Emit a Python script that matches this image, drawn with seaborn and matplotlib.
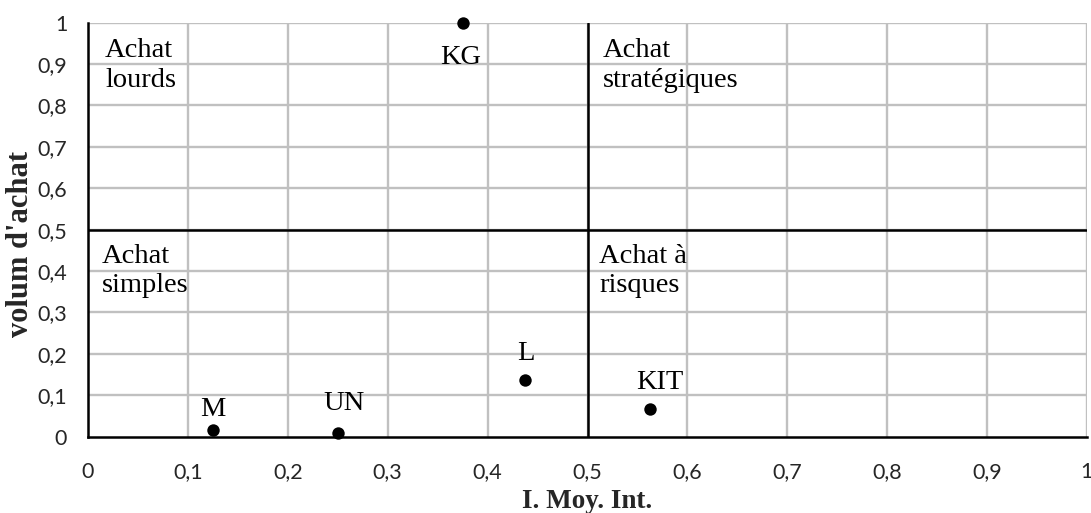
import matplotlib
matplotlib.use("Agg")
import matplotlib.pyplot as plt
import seaborn as sns
import pandas as pd

# ---- data ----
names = ["M", "UN", "L", "KIT", "KG"]
x_vals = [0.125, 0.25, 0.4375, 0.5625, 0.375]
y_vals = [0.015, 0.01, 0.137, 0.068, 1.0]
label_offsets = [(0, 14), (6, 23), (1, 20), (10, 20), (-2, -41)]  # pixels
tick_vals = [0, 0.1, 0.2, 0.3, 0.4, 0.5, 0.6, 0.7, 0.8, 0.9, 1]
tick_labels = ["0", "0,1", "0,2", "0,3", "0,4", "0,5", "0,6", "0,7", "0,8", "0,9", "1"]
quadrant_texts = ["Achat\nlourds", "Achat\nstratégiques", "Achat\nsimples", "Achat à\nrisques"]
quadrant_pos = [(0.017, 0.963), (0.515, 0.963), (0.014, 0.466), (0.512, 0.466)]
x_title = "I. Moy. Int."
y_title = "volum d'achat"

sns.set_style("white")
plt.rcParams['font.family'] = ['Liberation Serif', 'DejaVu Serif']

df = pd.DataFrame({"name": names, "x": x_vals, "y": y_vals})

fig = plt.figure(figsize=(10.91, 5.13), dpi=100)
ax = fig.add_axes([0.0807, 0.1488, 0.9156, 0.807])

grid_c = "#C0C0C0"
for t in tick_vals[1:]:
    ax.axvline(t, color=grid_c, lw=1.7, zorder=0)
for t in tick_vals[1:]:
    ax.axhline(t, color=grid_c, lw=1.7, zorder=0)

ax.axvline(0.5, color="black", lw=1.8, zorder=1)
ax.axhline(0.5, color="black", lw=1.8, zorder=1)

sns.scatterplot(data=df, x="x", y="y", ax=ax, color="black", s=80,
                edgecolor="black", linewidth=0, zorder=5, clip_on=False, legend=False)

for n, xv, yv, (dx, dy) in zip(names, x_vals, y_vals, label_offsets):
    ax.annotate(n, (xv, yv), xytext=(dx, dy), textcoords="offset pixels",
                ha="center", va="baseline", fontsize=20.5, color="black",
                family="Liberation Serif", zorder=6)

for txt, (qx, qy) in zip(quadrant_texts, quadrant_pos):
    ax.text(qx, qy, txt, ha="left", va="top", fontsize=20.5, color="black",
            family="Liberation Serif", linespacing=1.25, zorder=4)

ax.set_xlim(0, 1)
ax.set_ylim(0, 1)
ax.set_xticks(tick_vals)
ax.set_yticks(tick_vals)
ax.set_xticklabels(tick_labels, family="Lato", fontsize=15.5)
ax.set_yticklabels(tick_labels, family="Lato", fontsize=15.5)
ax.tick_params(axis="x", length=0, pad=18)
ax.tick_params(axis="y", length=0, pad=15)

for s in ["top", "right"]:
    ax.spines[s].set_visible(False)
for s in ["left", "bottom"]:
    ax.spines[s].set_color("black")
    ax.spines[s].set_linewidth(1.8)
    ax.spines[s].set_zorder(3)

ax.set_xlabel(x_title, fontsize=19.5, fontweight="bold", family="Liberation Serif", labelpad=5)
ax.set_ylabel(y_title, fontsize=22, fontweight="bold", family="Liberation Serif")
ax.yaxis.set_label_coords(-0.053, 0.465)

fig.savefig("out.png", dpi=100, facecolor="white")
